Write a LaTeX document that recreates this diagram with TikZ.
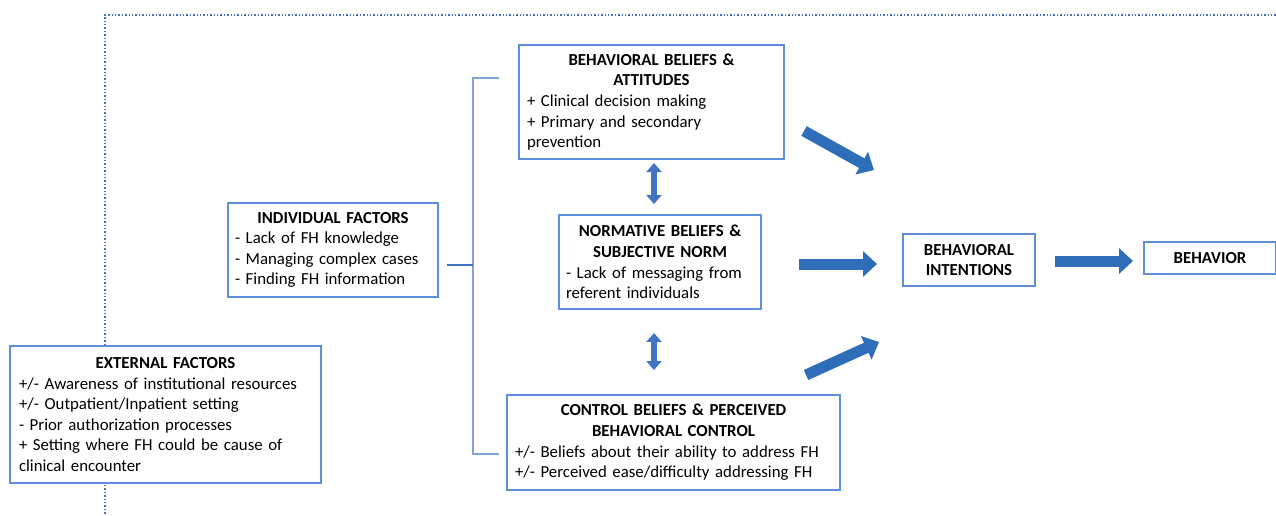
\documentclass[tikz,border=0pt]{standalone}
\usepackage{fontspec}
\setmainfont{Carlito}
\usetikzlibrary{arrows.meta}
\definecolor{boxblue}{HTML}{5E8FD8}
\definecolor{arrblue}{HTML}{2E6DB8}
\definecolor{dblblue}{HTML}{4573C3}
\definecolor{brblue}{HTML}{7FA3DD}
\definecolor{dotblue}{HTML}{4A70C6}
\newcommand{\bxfont}{\fontsize{16.8}{20.6}\selectfont}
\tikzset{
  tb/.style={draw=boxblue, line width=1.3pt, inner sep=0pt, font=\bxfont, text=black},
  bigarr/.style={draw=arrblue, line width=11pt, -{Triangle[width=25pt,length=14pt]}},
  dblarr/.style={draw=dblblue, line width=6pt, {Triangle[width=15pt,length=9pt]}-{Triangle[width=15pt,length=9pt]}},
  brk/.style={draw=brblue, line width=1.5pt},
  frame/.style={draw=dotblue, line width=1.4pt, dotted}
}
\begin{document}
\begin{tikzpicture}[x=1pt,y=-1pt]
\useasboundingbox (0,0) rectangle (1276,515);
% dotted frame
\coordinate (f1) at (105,345);
\coordinate (f2) at (105,15);
\coordinate (f3) at (1276,15);
\coordinate (f4) at (105,485);
\coordinate (f5) at (105,515);
\draw[frame] (f1) -- (f2) -- (f3);
\draw[frame] (f4) -- (f5);
% boxes
\node[tb, minimum width=311pt, minimum height=137pt, text width=293pt] (ext) at (165.5,414.5)
 {{\centering\bfseries EXTERNAL FACTORS\par}{\raggedright +/- Awareness of institutional resources\\+/- Outpatient/Inpatient setting\\- Prior authorization processes\\+ Setting where FH could be cause of\\clinical encounter\par}};
\node[tb, minimum width=210pt, minimum height=94pt, text width=196pt] (ind) at (333,250)
 {{\centering\bfseries INDIVIDUAL FACTORS\par}{\raggedright - Lack of FH knowledge\\- Managing complex cases\\- Finding FH information\par}};
\node[tb, minimum width=265pt, minimum height=114pt, text width=249pt] (bb) at (651.5,102)
 {{\centering\bfseries BEHAVIORAL BELIEFS \&\\ATTITUDES\par}{\raggedright + Clinical decision making\\+ Primary and secondary\\prevention\par}};
\node[tb, minimum width=202pt, minimum height=94pt, text width=188pt] (nb) at (660,262)
 {{\centering\bfseries NORMATIVE BELIEFS \&\\SUBJECTIVE NORM\par}{\raggedright - Lack of messaging from\\referent individuals\par}};
\node[tb, minimum width=333pt, minimum height=95pt, text width=317pt] (cb) at (673.5,442.5)
 {{\centering\bfseries CONTROL BELIEFS \& PERCEIVED\\BEHAVIORAL CONTROL\par}{\raggedright +/- Beliefs about their ability to address FH\\+/- Perceived ease/difficulty addressing FH\par}};
\node[tb, minimum width=132pt, minimum height=52pt, align=center, font=\bxfont\bfseries] (bi) at (969,260)
 {BEHAVIORAL\\INTENTIONS};
\node[tb, minimum width=132pt, minimum height=32pt, font=\bxfont\bfseries] (bh) at (1210,258)
 {BEHAVIOR};
% bracket
\coordinate (stub) at (447,265);
\coordinate (bmid) at (473,265);
\coordinate (btop) at (473,78);
\coordinate (btopE) at (499,78);
\coordinate (bbot) at (473,454);
\coordinate (bbotE) at (499,454);
\draw[brk] (btopE) -- (btop) -- (bbot) -- (bbotE);
\draw[draw=dblblue, line width=1.5pt] (stub) -- (bmid);
% double arrows
\coordinate (d1a) at (654,163);
\coordinate (d1b) at (654,204);
\coordinate (d2a) at (654,333);
\coordinate (d2b) at (654,370);
\draw[dblarr] (d1a) -- (d1b);
\draw[dblarr] (d2a) -- (d2b);
% big arrows
\coordinate (a1s) at (804,131);
\coordinate (a1e) at (874,170);
\coordinate (a2s) at (799,264);
\coordinate (a2e) at (877,264);
\coordinate (a3s) at (806,375);
\coordinate (a3e) at (879,342);
\coordinate (a4s) at (1055,261);
\coordinate (a4e) at (1133,261);
\draw[bigarr] (a1s) -- (a1e);
\draw[bigarr] (a2s) -- (a2e);
\draw[bigarr] (a3s) -- (a3e);
\draw[bigarr] (a4s) -- (a4e);
\end{tikzpicture}
\end{document}
